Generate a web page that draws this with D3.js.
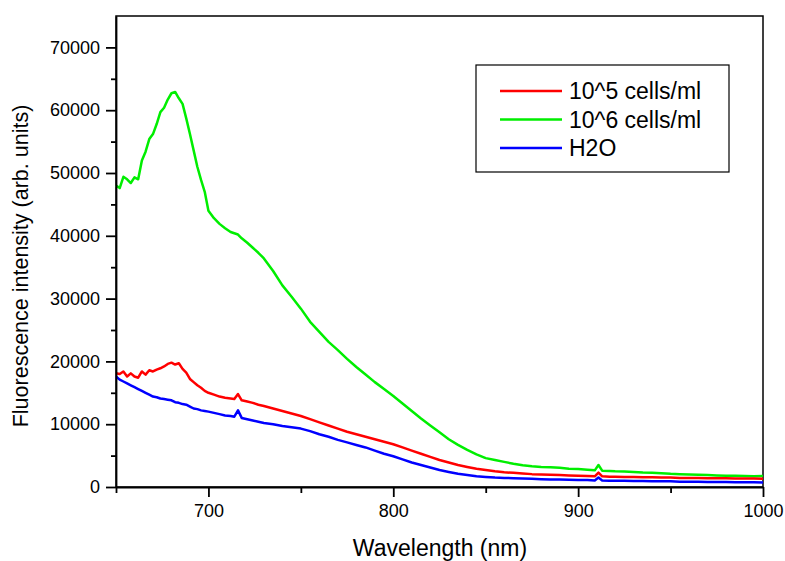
<!DOCTYPE html>
<html>
<head>
<meta charset="utf-8">
<script src="https://cdn.jsdelivr.net/npm/d3@7"></script>
<style>
  body { margin: 0; background: #fff; }
  text { font-family: "Liberation Sans", Arial, sans-serif; }
</style>
</head>
<body>
<svg id="chart" width="785" height="561"></svg>
<script>
// wavelength grid (nm)
const wavelength = [650,652,654,656,658,660,662,664,666,668,670,672,674,676,678,680,682,684,686,688,690,692,694,696,698,700,
  703,706,709,712,714,716,718,721,724,727,730,735,740,745,750,755,760,765,770,775,780,785,790,795,800,
  805,810,815,820,825,830,835,840,845,850,855,860,865,870,875,880,885,890,895,900,905,909,911,913,917,
  920,925,930,935,940,945,950,955,960,965,970,975,980,985,990,995,1000]

const cells1e5 = [18100,18000,18400,17600,18100,17600,17400,18400,17900,18600,18400,18700,18900,19200,19600,19800,19500,19700,18800,18200,17200,16700,16200,15800,15300,15000,
  14700,14400,14200,14100,14000,14800,13800,13600,13400,13100,12900,12500,12100,11700,11300,10800,10300,9800,9300,8800,8400,8000,7600,7200,6800,
  6300,5800,5300,4800,4300,3900,3500,3200,2900,2700,2500,2350,2250,2150,2050,2000,1950,1900,1850,1800,1750,1700,2300,1700,1650,
  1650,1600,1600,1550,1550,1500,1500,1450,1450,1450,1400,1400,1400,1350,1350,1350,1300]

const cells1e6 = [48000,47600,49400,49000,48400,49300,49000,52000,53400,55400,56200,57800,59700,60400,61700,62700,62900,61900,61000,58700,56200,53600,51000,48900,47000,44000,
  42800,41900,41200,40600,40400,40200,39600,38900,38100,37300,36400,34400,32100,30300,28400,26300,24700,23100,21800,20400,19100,17900,16700,15600,14500,
  13300,12100,10900,9800,8700,7600,6700,5900,5200,4600,4300,4000,3700,3450,3300,3200,3150,3050,2900,2850,2750,2650,3500,2600,2550,
  2500,2450,2400,2300,2250,2200,2100,2050,2000,1950,1900,1850,1800,1800,1750,1700,1750]

const water = [17600,17100,16800,16500,16200,15900,15600,15300,15000,14700,14400,14300,14100,14000,13900,13800,13500,13400,13200,13100,12800,12500,12400,12200,12100,12000,
  11800,11600,11400,11300,11200,12200,11000,10800,10600,10400,10200,10000,9700,9500,9300,8900,8400,8000,7500,7100,6700,6300,5800,5300,4900,
  4400,3900,3500,3100,2700,2400,2100,1900,1700,1600,1500,1450,1400,1350,1300,1250,1200,1200,1150,1100,1100,1050,1500,1050,1000,
  1000,1000,950,950,900,900,900,850,850,850,800,800,800,750,750,750,700]

const seriesNames = ["10^5 cells/ml", "10^6 cells/ml", "H2O"]
const seriesColors = ["#ff0000", "#00ee00", "#0000ff"]
const xTicks = [700, 800, 900, 1000]
const yTicks = [0, 10000, 20000, 30000, 40000, 50000, 60000, 70000]

let svg = d3.select("#chart")
let mL = 116, mT = 16, mR = 763, mB = 487

let x = d3.scaleLinear().domain([650, 1000]).range([mL, mR])
let y = d3.scaleLinear().domain([0, 75000]).range([mB, mT])

// frame
svg.append("rect")
  .attr("x", mL).attr("y", mT)
  .attr("width", mR - mL).attr("height", mB - mT)
  .attr("fill", "none").attr("stroke", "black").attr("stroke-width", 1.5)

// curves
let line = d3.line()
  .x((d, i) => x(wavelength[i]))
  .y((d) => y(d))

let order = [cells1e6, cells1e5, water]
let orderColors = [seriesColors[1], seriesColors[0], seriesColors[2]]
order.forEach((s, k) => {
  svg.append("path")
    .datum(s)
    .attr("d", line)
    .attr("fill", "none")
    .attr("stroke", orderColors[k])
    .attr("stroke-width", 2.5)
    .attr("stroke-linejoin", "round")
})

// x axis
let gx = svg.append("g").attr("transform", "translate(0," + mB + ")")
gx.call(d3.axisBottom(x).tickValues(xTicks).tickSize(10).tickSizeOuter(0).tickPadding(7).tickFormat(d3.format("d")))
gx.append("g").call(d3.axisBottom(x).tickValues([650, 750, 850, 950]).tickSize(6).tickFormat(""))
  .select(".domain").remove()
gx.selectAll("path,line").attr("stroke", "black").attr("stroke-width", 1.8)
gx.selectAll("text").attr("font-size", "18px").attr("fill", "black")
  .style("font-family", "'Liberation Sans', Arial, sans-serif")

// y axis
let gy = svg.append("g").attr("transform", "translate(" + mL + ",0)")
gy.call(d3.axisLeft(y).tickValues(yTicks).tickSize(10).tickSizeOuter(0).tickPadding(6).tickFormat(d3.format("d")))
gy.append("g").call(d3.axisLeft(y).tickValues([5000, 15000, 25000, 35000, 45000, 55000, 65000]).tickSize(5).tickFormat(""))
  .select(".domain").remove()
gy.selectAll("path,line").attr("stroke", "black").attr("stroke-width", 1.8)
gy.selectAll("text").attr("font-size", "18px").attr("fill", "black")
  .style("font-family", "'Liberation Sans', Arial, sans-serif")

// titles
svg.append("text")
  .text("Wavelength (nm)")
  .attr("x", 440).attr("y", 556)
  .attr("text-anchor", "middle")
  .attr("font-size", "23px")

svg.append("text")
  .text("Fluorescence intensity (arb. units)")
  .attr("transform", "translate(28," + 266 + ") rotate(-90)")
  .attr("text-anchor", "middle")
  .attr("font-size", "21.5px")

// legend
let lg = svg.append("g")
lg.append("rect")
  .attr("x", 476).attr("y", 65).attr("width", 253).attr("height", 107)
  .attr("fill", "white").attr("stroke", "black").attr("stroke-width", 1.2)

seriesNames.forEach((name, i) => {
  let ly = 91 + i * 28.5
  lg.append("line")
    .attr("x1", 500).attr("x2", 562).attr("y1", ly).attr("y2", ly)
    .attr("stroke", seriesColors[i]).attr("stroke-width", 2.5)
  lg.append("text")
    .text(name)
    .attr("x", 569).attr("y", ly + 8)
    .attr("font-size", "23px")
})
</script>
</body>
</html>
